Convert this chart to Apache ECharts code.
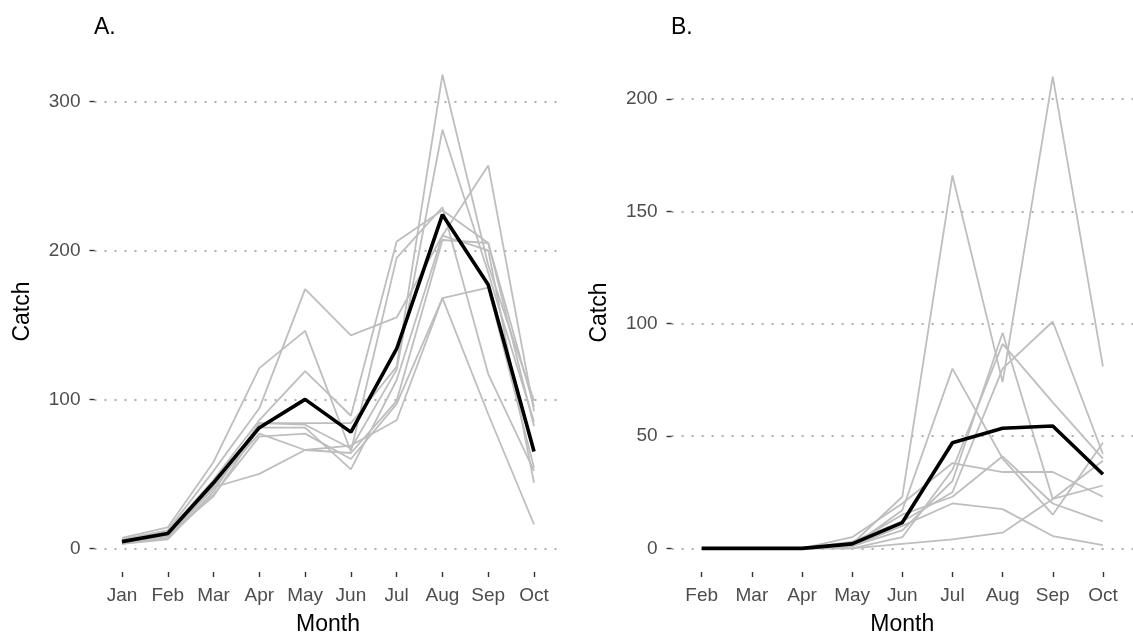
<!DOCTYPE html>
<html>
<head>
<meta charset="utf-8">
<script src="https://cdn.jsdelivr.net/npm/echarts@6/dist/echarts.min.js"></script>
<style>
html,body{margin:0;padding:0;background:#fff;}
#chart{width:1133px;height:641px;}
</style>
</head>
<body>
<div id="chart"></div>
<script>
// ---- Panel A data ----
const monthsA = ['Jan','Feb','Mar','Apr','May','Jun','Jul','Aug','Sep','Oct'];
const ticksA = [0, 100, 200, 300];
const meanA = [4.5, 10, 44, 81, 100, 78, 134, 224, 177, 65];
const a1 = [6, 12, 52, 94, 174, 143, 155, 210, 257, 92];
const a2 = [7, 14, 58, 121, 146, 65, 195, 229, 117, 52];
const a3 = [5, 11, 46, 86, 119, 89, 206, 227, 205, 95];
const a4 = [4, 8, 40, 84, 84, 84, 122, 318, 190, 99];
const a5 = [3, 6, 38, 84, 83, 67, 120, 281, 185, 85];
const a6 = [5, 9, 42, 77, 66, 64, 99, 207, 205, 82];
const a7 = [4, 10, 41, 50, 66, 69, 86, 168, 175, 54];
const a8 = [3, 7, 36, 75, 77, 60, 97, 168, 90, 16];
const a9 = [4, 9, 35, 81, 81, 53, 113, 210, 200, 44];

// ---- Panel B data ----
const monthsB = ['Feb','Mar','Apr','May','Jun','Jul','Aug','Sep','Oct'];
const ticksB = [0, 50, 100, 150, 200];
const meanB = [0, 0, 0, 2, 11.5, 47, 53.5, 54.5, 33];
const b1 = [0, 0, 0, 2, 23, 166, 74, 210, 81];
const b2 = [0, 0, 0, 1, 17, 80, 40, 15, 47];
const b3 = [0, 0, 0, 1, 8, 30, 96, 22, 39];
const b4 = [0, 0, 0, 0, 5, 35, 91, 65, 40];
const b5 = [0, 0, 0, 3, 12, 25, 80, 101, 42];
const b6 = [0, 0, 0, 5, 20, 38, 34, 34, 23];
const b7 = [0, 0, 0, 2, 15, 23, 41, 20, 12];
const b8 = [0, 0, 0, 1, 10, 20, 17.5, 5.5, 1.5];
const b9 = [0, 0, 0, 0, 2, 4, 7, 22, 28];

const grayA = [a1, a2, a3, a4, a5, a6, a7, a8, a9];
const grayB = [b1, b2, b3, b4, b5, b6, b7, b8, b9];

const FONT = 'Liberation Sans, Arial, sans-serif';
const pairs = arr => arr.map((v, i) => [i, v]);

function xAxisFor(idx, months) {
  const vals = months.map((m, i) => i);
  return {
    type: 'value', gridIndex: idx,
    min: -0.6, max: months.length - 0.4,
    name: 'Month', nameLocation: 'middle', nameGap: 41,
    nameTextStyle: {fontFamily: FONT, fontSize: 23, color: '#000'},
    axisLine: {show: false, onZero: false},
    axisTick: {show: true, length: 5, customValues: vals, lineStyle: {color: '#333', width: 1.4}},
    axisLabel: {customValues: vals, margin: 14, fontFamily: FONT, fontSize: 19, color: '#4d4d4d',
      formatter: v => months[Math.round(v)] || ''},
    splitLine: {show: false}
  };
}
function yAxisFor(idx, ticks, mn, mx) {
  return {
    type: 'value', gridIndex: idx, min: mn, max: mx,
    name: 'Catch', nameLocation: 'middle', nameGap: 60,
    nameTextStyle: {fontFamily: FONT, fontSize: 23, color: '#000'},
    axisLine: {show: false, onZero: false},
    axisTick: {show: true, length: 5, customValues: ticks, lineStyle: {color: '#333', width: 1.4}},
    axisLabel: {customValues: ticks, margin: 14, fontFamily: FONT, fontSize: 19, color: '#4d4d4d'},
    splitLine: {show: true, lineStyle: {type: [2, 8], color: '#adadad', width: 2}}
  };
}

const series = [];
grayA.forEach(d => series.push({type: 'line', xAxisIndex: 0, yAxisIndex: 0, data: pairs(d),
  symbol: 'none', silent: true, z: 2, lineStyle: {color: '#bebebe', width: 1.8}}));
series.push({type: 'line', xAxisIndex: 0, yAxisIndex: 0, data: pairs(meanA),
  symbol: 'none', silent: true, z: 5, lineStyle: {color: '#000', width: 3.6}});
grayB.forEach(d => series.push({type: 'line', xAxisIndex: 1, yAxisIndex: 1, data: pairs(d),
  symbol: 'none', silent: true, z: 2, lineStyle: {color: '#bebebe', width: 1.8}}));
series.push({type: 'line', xAxisIndex: 1, yAxisIndex: 1, data: pairs(meanB),
  symbol: 'none', silent: true, z: 5, lineStyle: {color: '#000', width: 3.6}});

const chart = echarts.init(document.getElementById('chart'), null, {renderer: 'canvas'});
chart.setOption({
  animation: false,
  backgroundColor: '#fff',
  title: [
    {text: 'A.', left: 89, top: 11, textStyle: {fontFamily: FONT, fontSize: 23, fontWeight: 'normal', color: '#000'}},
    {text: 'B.', left: 666, top: 11, textStyle: {fontFamily: FONT, fontSize: 23, fontWeight: 'normal', color: '#000'}}
  ],
  grid: [
    {left: 94.5, top: 51, width: 467, height: 529},
    {left: 671.6, top: 53, width: 466, height: 526}
  ],
  xAxis: [xAxisFor(0, monthsA), xAxisFor(1, monthsB)],
  yAxis: [yAxisFor(0, ticksA, -15.9, 333.9), yAxisFor(1, ticksB, -10.5, 220.5)],
  series: series
});
</script>
</body>
</html>
